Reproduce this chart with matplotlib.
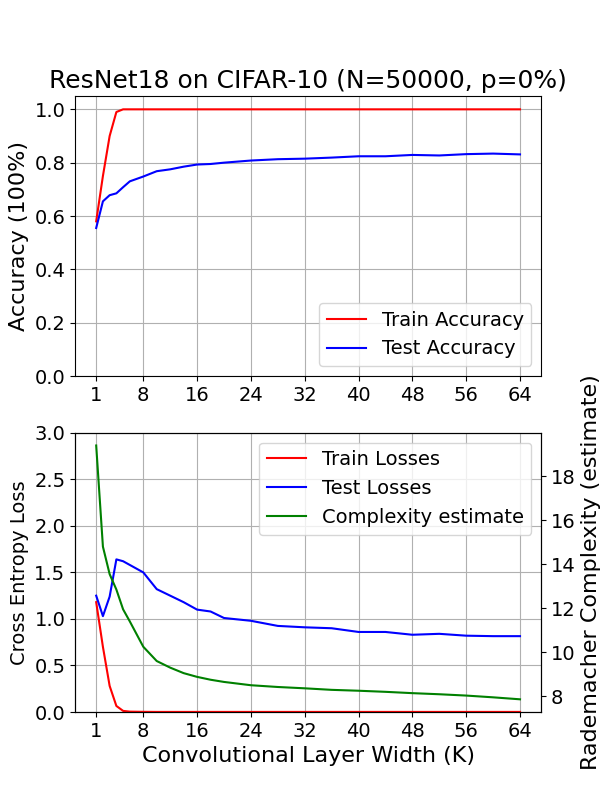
import matplotlib
matplotlib.use("Agg")
import matplotlib.pyplot as plt

# widths K
widths = [1, 2, 3, 4, 5, 6, 8, 10, 12, 14, 16, 18, 20, 24, 28, 32, 36, 40, 44, 48, 52, 56, 60, 64]

train_acc = [0.58, 0.75, 0.90, 0.99, 1.0, 1.0, 1.0, 1.0, 1.0, 1.0, 1.0, 1.0, 1.0, 1.0, 1.0, 1.0,
             1.0, 1.0, 1.0, 1.0, 1.0, 1.0, 1.0, 1.0]
test_acc = [0.555, 0.655, 0.678, 0.685, 0.708, 0.73, 0.748, 0.768, 0.775, 0.785, 0.793, 0.795,
            0.80, 0.808, 0.813, 0.815, 0.819, 0.824, 0.824, 0.829, 0.827, 0.832, 0.834, 0.831]

train_loss = [1.18, 0.70, 0.28, 0.065, 0.012, 0.004, 0.002, 0.001, 0.001, 0.001, 0.001, 0.001,
              0.001, 0.001, 0.001, 0.001, 0.001, 0.001, 0.001, 0.001, 0.001, 0.001, 0.001, 0.001]
test_loss = [1.25, 1.03, 1.24, 1.64, 1.62, 1.58, 1.50, 1.32, 1.25, 1.18, 1.10, 1.08,
             1.01, 0.98, 0.925, 0.91, 0.90, 0.86, 0.86, 0.83, 0.84, 0.82, 0.815, 0.815]
complexity = [19.4, 14.8, 13.55, 12.85, 11.95, 11.4, 10.25, 9.6, 9.3, 9.05, 8.88, 8.75,
              8.65, 8.5, 8.42, 8.36, 8.29, 8.25, 8.2, 8.14, 8.09, 8.03, 7.95, 7.86]

xticks = [1, 8, 16, 24, 32, 40, 48, 56, 64]

fig = plt.figure(figsize=(6, 8), dpi=100)

ax1 = fig.add_axes([0.125, 0.53, 0.777, 0.35])
ax1.plot(widths, train_acc, color="red", label="Train Accuracy")
ax1.plot(widths, test_acc, color="blue", label="Test Accuracy")
ax1.set_ylim(0, 1.05)
ax1.set_xticks(xticks)
ax1.tick_params(labelsize=14)
ax1.set_ylabel("Accuracy (100%)", fontsize=16)
ax1.set_title("ResNet18 on CIFAR-10 (N=50000, p=0%)", fontsize=18)
ax1.grid(True)
ax1.legend(loc="lower right", fontsize=14)

ax2 = fig.add_axes([0.125, 0.11, 0.777, 0.349])
l1, = ax2.plot(widths, train_loss, color="red", label="Train Losses")
l2, = ax2.plot(widths, test_loss, color="blue", label="Test Losses")
ax2.set_ylim(0, 3.0)
ax2.set_xticks(xticks)
ax2.tick_params(labelsize=14)
ax2.set_ylabel("Cross Entropy Loss", fontsize=14)
ax2.set_xlabel("Convolutional Layer Width (K)", fontsize=16)
ax2.grid(True)

ax3 = ax2.twinx()
l3, = ax3.plot(widths, complexity, color="green", label="Complexity estimate")
ax3.tick_params(labelsize=14)
ax3.set_ylabel("Rademacher Complexity (estimate)", fontsize=16)

ax2.legend(handles=[l1, l2, l3], loc="upper right", fontsize=14)

fig.savefig("out.png")
